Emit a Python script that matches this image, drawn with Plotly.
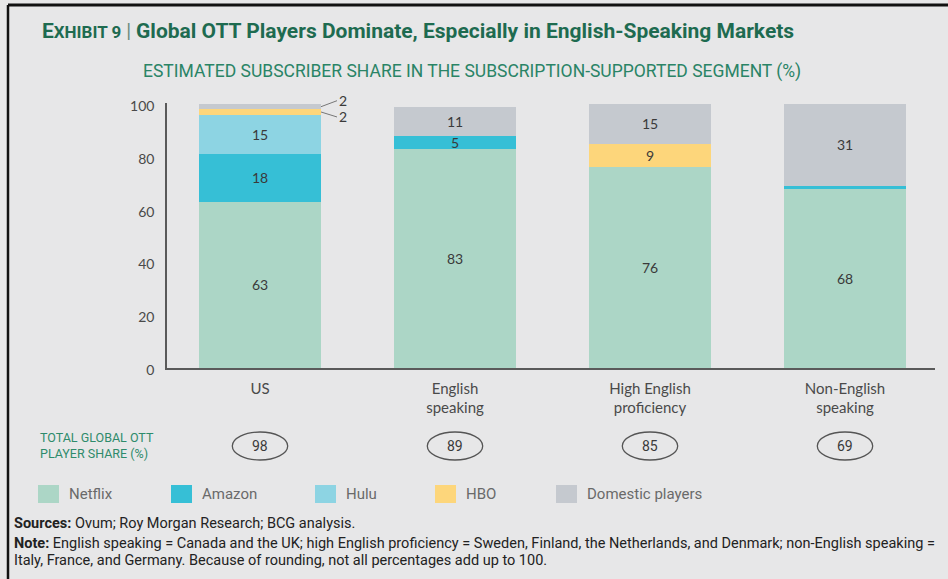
import plotly.graph_objects as go

# ---- data ----
categories = ["US", "English<br>speaking", "High English<br>proficiency", "Non-English<br>speaking"]
netflix = [63, 83, 76, 68]
amazon = [18, 5, 0, 1]
hulu = [15, 0, 0, 0]
hbo = [2, 0, 9, 0]
domestic = [2, 11, 15, 31]
total_share = [98, 89, 85, 69]
series_names = ["Netflix", "Amazon", "Hulu", "HBO", "Domestic players"]
y_ticks = [0, 20, 40, 60, 80, 100]

colors = ["#acd6c6", "#36bfd6", "#8dd4e3", "#fdd67b", "#c5c9cf"]
series_vals = [netflix, amazon, hulu, hbo, domestic]

W, H = 948, 579
L, R, T, B = 167, 13, 103, 211
PW, PH = W - L - R, H - T - B

def px_x(px):
    return (px - L) / PW

def px_y(py):
    return (H - B - py) / PH

BG = "#e7e7e8"
NUMFONT = "Lato, 'Open Sans', sans-serif"
COND = "'Roboto', sans-serif"

fig = go.Figure()
for name, vals, col in zip(series_names, series_vals, colors):
    fig.add_trace(go.Bar(
        x=list(range(len(categories))), y=vals, name=name,
        marker=dict(color=col, line=dict(width=0)),
        text=[str(v) if v >= 4 else "" for v in vals],
        textposition="inside", insidetextanchor="middle", textangle=0,
        textfont=dict(family=NUMFONT, size=14, color="#3a3a3a"),
        showlegend=False, hoverinfo="skip",
    ))

bar_w = 122 / 195
fig.update_layout(
    width=W, height=H, barmode="stack", bargap=1 - bar_w,
    margin=dict(l=L, r=R, t=T, b=B, autoexpand=False),
    paper_bgcolor=BG, plot_bgcolor=BG,
    uniformtext=dict(minsize=14, mode="show"),
    xaxis=dict(
        tickmode="array", tickvals=list(range(len(categories))), ticktext=categories,
        range=[-93 / 195, 675 / 195],
        showline=True, linecolor="#5a5a5a", linewidth=1.5, showgrid=False, zeroline=False,
        ticks="", ticklabelstandoff=6,
        tickfont=dict(family=NUMFONT, size=15, color="#4a4a4a"),
    ),
    yaxis=dict(
        range=[0, 100.4], tickvals=y_ticks,
        showline=True, linecolor="#5a5a5a", linewidth=1.5, showgrid=False, zeroline=False,
        ticks="", ticklabelstandoff=8, ticklabelshift=2,
        tickfont=dict(family=NUMFONT, size=14, color="#4a4a4a"),
    ),
    font=dict(family=NUMFONT),
)

shapes = []
ann = []

# border
shapes.append(dict(type="line", xref="paper", yref="paper", x0=px_x(8), x1=px_x(950),
                   y0=px_y(5), y1=px_y(5), line=dict(color="#111", width=3)))
shapes.append(dict(type="line", xref="paper", yref="paper", x0=px_x(8), x1=px_x(8),
                   y0=px_y(5), y1=px_y(585), line=dict(color="#111", width=2.5)))

# title & subtitle
ann.append(dict(xref="paper", yref="paper", x=px_x(40), y=px_y(31), xanchor="left", yanchor="middle",
                showarrow=False,
                text="<b><span style='font-size:21px'>E</span>XHIBIT 9</b>"
                     "<span style='color:#6a8a7e;font-size:20px'> | </span>"
                     "<b><span style='font-size:21px'>Global OTT Players Dominate, Especially in English-Speaking Markets</span></b>",
                font=dict(family=COND, size=17, color="#1e6b50")))
ann.append(dict(xref="paper", yref="paper", x=px_x(472), y=px_y(71), xanchor="center", yanchor="middle",
                showarrow=False,
                text="ESTIMATED SUBSCRIBER SHARE IN THE SUBSCRIPTION-SUPPORTED SEGMENT (%)",
                font=dict(family=COND, size=17.5, color="#2a8466")))

# small US labels with leader lines
ann.append(dict(x=bar_w / 2, y=netflix[0] + amazon[0] + hulu[0] + hbo[0] + domestic[0] / 2,
                xref="x", yref="y", text=str(domestic[0]), showarrow=True, arrowhead=0,
                arrowwidth=1, arrowcolor="#777", ax=16, ay=-6, xanchor="left",
                font=dict(family=NUMFONT, size=14, color="#3a3a3a")))
ann.append(dict(x=bar_w / 2, y=netflix[0] + amazon[0] + hulu[0] + hbo[0] / 2,
                xref="x", yref="y", text=str(hbo[0]), showarrow=True, arrowhead=0,
                arrowwidth=1, arrowcolor="#777", ax=16, ay=5, xanchor="left",
                font=dict(family=NUMFONT, size=14, color="#3a3a3a")))

# total share row
ann.append(dict(xref="paper", yref="paper", x=px_x(38), y=px_y(445), xanchor="left", yanchor="middle",
                showarrow=False, align="left",
                text="TOTAL GLOBAL OTT<br>PLAYER SHARE (%)",
                font=dict(family=COND, size=12.5, color="#2e8b6b")))
for i, v in enumerate(total_share):
    shapes.append(dict(type="circle", xref="x", yref="paper",
                       x0=i - 0.142, x1=i + 0.142, y0=px_y(460), y1=px_y(432),
                       line=dict(color="#555", width=1.3)))
    ann.append(dict(xref="x", yref="paper", x=i, y=px_y(446), xanchor="center", yanchor="middle",
                    showarrow=False, text=str(v),
                    font=dict(family=COND, size=14, color="#3a3a3a")))

# legend (manual)
legend_x = [38, 171, 315, 435, 556]
for name, col, lx in zip(series_names, colors, legend_x):
    shapes.append(dict(type="rect", xref="paper", yref="paper",
                       x0=px_x(lx), x1=px_x(lx + 21), y0=px_y(503), y1=px_y(485),
                       fillcolor=col, line=dict(width=0)))
    ann.append(dict(xref="paper", yref="paper", x=px_x(lx + 29), y=px_y(494),
                    xanchor="left", yanchor="middle", showarrow=False, text=name,
                    font=dict(family=COND, size=15, color="#6a6a6a")))

# footer
foot = [
    (523, "<b>Sources:</b> Ovum; Roy Morgan Research; BCG analysis."),
    (543, "<b>Note:</b> English speaking = Canada and the UK; high English proficiency = Sweden, Finland, the Netherlands, and Denmark; non-English speaking ="),
    (560, "Italy, France, and Germany. Because of rounding, not all percentages add up to 100."),
]
for y, t in foot:
    ann.append(dict(xref="paper", yref="paper", x=px_x(12), y=px_y(y), xanchor="left", yanchor="middle",
                    showarrow=False, text=t,
                    font=dict(family=COND, size=14.5, color="#222")))

fig.update_layout(shapes=shapes, annotations=ann)
fig.write_html("out.html", config={"displayModeBar": False},
               post_script="document.body.style.margin='0';document.body.style.overflow='hidden';")
